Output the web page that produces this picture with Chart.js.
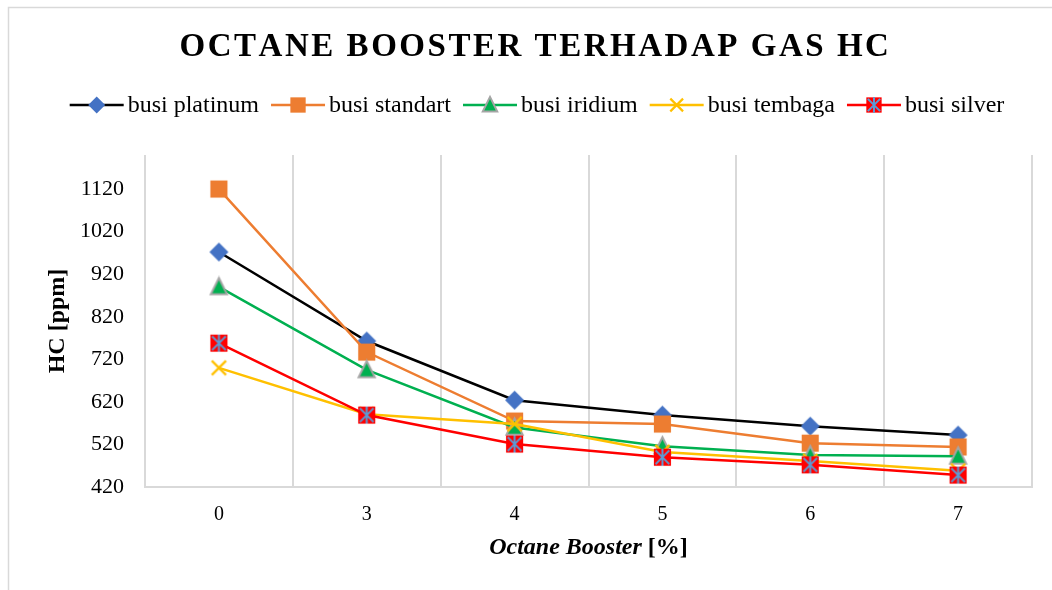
<!DOCTYPE html>
<html>
<head>
<meta charset="utf-8">
<script src="https://cdn.jsdelivr.net/npm/chart.js@4/dist/chart.umd.min.js"></script>
<style>
  html, body { margin: 0; padding: 0; background: #fff; }
  #wrap { position: relative; width: 1052px; height: 590px; overflow: hidden; }
  canvas { display: block; }
</style>
</head>
<body>
<div id="wrap"><canvas id="c" width="1052" height="590"></canvas></div>
<script>
// ---- data ----
const categories = ['0', '3', '4', '5', '6', '7'];
const seriesNames = ['busi platinum', 'busi standart', 'busi iridium', 'busi tembaga', 'busi silver'];
const platinum = [972, 763, 624, 589, 563, 542];
const standart = [1120, 737, 575, 568, 523, 514];
const iridium  = [890, 695, 560, 516, 495, 492];
const tembaga  = [700, 591, 568, 502, 481, 458];
const silver   = [758, 589, 521, 490, 472, 448];
const yTickValues = [420, 520, 620, 720, 820, 920, 1020, 1120];
const yMin = 420, yMax = 1200;
const titleText = 'OCTANE BOOSTER TERHADAP GAS HC';
const yTitle = 'HC [ppm]';
const xTitleItalic = 'Octane Booster';
const xTitleRest = ' [%]';

const FONT = '"Liberation Serif", "Times New Roman", serif';
const lineColors = ['#000000', '#ED7D31', '#00B050', '#FFC000', '#FF0000'];

// ---- marker drawing ----
function drawMarker(ctx, kind, cx, cy, s) {
  const h = s / 2;
  ctx.save();
  if (kind === 0) { // blue diamond
    ctx.fillStyle = '#4472C4';
    ctx.beginPath();
    ctx.moveTo(cx, cy - h); ctx.lineTo(cx + h, cy); ctx.lineTo(cx, cy + h); ctx.lineTo(cx - h, cy);
    ctx.closePath(); ctx.fill();
  } else if (kind === 1) { // orange square
    ctx.fillStyle = '#ED7D31';
    const q = h * 0.9;
    ctx.fillRect(cx - q, cy - q, 2 * q, 2 * q);
  } else if (kind === 2) { // green triangle, gray border
    ctx.fillStyle = '#00B050';
    ctx.strokeStyle = '#A5A5A5';
    ctx.lineWidth = 2;
    ctx.beginPath();
    ctx.moveTo(cx, cy - h * 0.95); ctx.lineTo(cx + h * 0.85, cy + h * 0.75); ctx.lineTo(cx - h * 0.85, cy + h * 0.75);
    ctx.closePath(); ctx.fill(); ctx.stroke();
  } else if (kind === 3) { // yellow X
    ctx.strokeStyle = '#FFC000';
    ctx.lineWidth = 2.25;
    const q = h * 0.75;
    ctx.beginPath();
    ctx.moveTo(cx - q, cy - q); ctx.lineTo(cx + q, cy + q);
    ctx.moveTo(cx + q, cy - q); ctx.lineTo(cx - q, cy + q);
    ctx.stroke();
  } else { // red square with blue star
    const q = h * 0.9;
    ctx.fillStyle = '#FF0000';
    ctx.fillRect(cx - q, cy - q, 2 * q, 2 * q);
    ctx.strokeStyle = '#5B9BD5';
    ctx.lineWidth = 2;
    const r = q * 0.8;
    ctx.beginPath();
    ctx.moveTo(cx - r, cy - r); ctx.lineTo(cx + r, cy + r);
    ctx.moveTo(cx + r, cy - r); ctx.lineTo(cx - r, cy + r);
    ctx.moveTo(cx, cy - q); ctx.lineTo(cx, cy + q);
    ctx.stroke();
  }
  ctx.restore();
}

function markerImage(kind, s) {
  const c = document.createElement('canvas');
  c.width = s + 4; c.height = s + 4;
  drawMarker(c.getContext('2d'), kind, (s + 4) / 2, (s + 4) / 2, s);
  return c;
}

const seriesData = [platinum, standart, iridium, tembaga, silver];
const datasets = seriesData.map((d, i) => ({
  label: seriesNames[i],
  data: d,
  borderColor: lineColors[i],
  backgroundColor: lineColors[i],
  borderWidth: 2.5,
  pointStyle: markerImage(i, 19),
  pointRadius: 9,
  pointHoverRadius: 9,
  tension: 0,
  order: 4 - i
}));

const decor = {
  id: 'decor',
  beforeDraw(chart) {
    const ctx = chart.ctx;
    ctx.save();
    ctx.strokeStyle = '#d9d9d9';
    ctx.lineWidth = 1.5;
    ctx.strokeRect(8.5, 7.5, 1200, 800);
    ctx.restore();
  },
  afterDraw(chart) {
    const ctx = chart.ctx;
    const ca = chart.chartArea;
    ctx.save();
    // title
    ctx.fillStyle = '#000';
    ctx.font = 'bold 33px ' + FONT;
    ctx.textBaseline = 'middle';
    ctx.textAlign = 'left';
    const targetW = 707;
    const n = titleText.length;
    const w0 = ctx.measureText(titleText).width;
    const sp = Math.max(0, (targetW - w0) / (n - 1));
    let tx = 533 - targetW / 2;
    for (const ch of titleText) {
      ctx.fillText(ch, tx, 47);
      tx += ctx.measureText(ch).width + sp;
    }
    // legend
    ctx.font = '24px ' + FONT;
    const iconW = 54, gapIT = 4, gapItems = 12;
    const widths = seriesNames.map(t => ctx.measureText(t).width);
    let total = 0;
    widths.forEach((w, i) => { total += iconW + gapIT + w + (i < widths.length - 1 ? gapItems : 0); });
    let lx = 537 - total / 2;
    const ly = 105;
    seriesNames.forEach((t, i) => {
      ctx.strokeStyle = lineColors[i];
      ctx.lineWidth = 2.5;
      ctx.beginPath(); ctx.moveTo(lx, ly); ctx.lineTo(lx + iconW, ly); ctx.stroke();
      drawMarker(ctx, i, lx + iconW / 2, ly, 17);
      ctx.fillStyle = '#000';
      ctx.textAlign = 'left';
      ctx.fillText(t, lx + iconW + gapIT, ly + 1);
      lx += iconW + gapIT + widths[i] + gapItems;
    });
    // x title
    const fi = 'italic bold 24px ' + FONT, fb = 'bold 24px ' + FONT;
    ctx.font = fi; const wi = ctx.measureText(xTitleItalic).width;
    ctx.font = fb; const wr = ctx.measureText(xTitleRest).width;
    let xx = (ca.left + ca.right) / 2 - (wi + wr) / 2;
    ctx.font = fi; ctx.fillText(xTitleItalic, xx, 548);
    ctx.font = fb; ctx.fillText(xTitleRest, xx + wi, 548);
    ctx.restore();
  }
};

new Chart(document.getElementById('c'), {
  type: 'line',
  data: { labels: categories, datasets },
  plugins: [decor],
  options: {
    responsive: false,
    animation: false,
    layout: { padding: { top: 155, right: 20, left: 0, bottom: 0 } },
    plugins: { legend: { display: false }, title: { display: false }, tooltip: { enabled: false } },
    scales: {
      x: {
        type: 'category',
        offset: true,
        grid: { display: true, offset: true, color: '#d9d9d9', lineWidth: 2, drawTicks: false },
        border: { display: true, color: '#d9d9d9', width: 2 },
        ticks: { color: '#000', font: { family: FONT, size: 20 }, padding: 16 },
        afterFit(s) { s.height = 103; }
      },
      y: {
        min: yMin, max: yMax,
        grid: { display: false, drawTicks: false },
        border: { display: false },
        afterBuildTicks(s) { s.ticks = yTickValues.map(v => ({ value: v })); },
        ticks: { color: '#000', font: { family: FONT, size: 22 }, padding: 21, callback: v => String(v) },
        title: { display: true, text: yTitle, color: '#000', font: { family: FONT, size: 24, weight: 'bold' }, padding: { top: 43 } },
        afterFit(s) { s.width = 145; }
      }
    }
  }
});
</script>
</body>
</html>
